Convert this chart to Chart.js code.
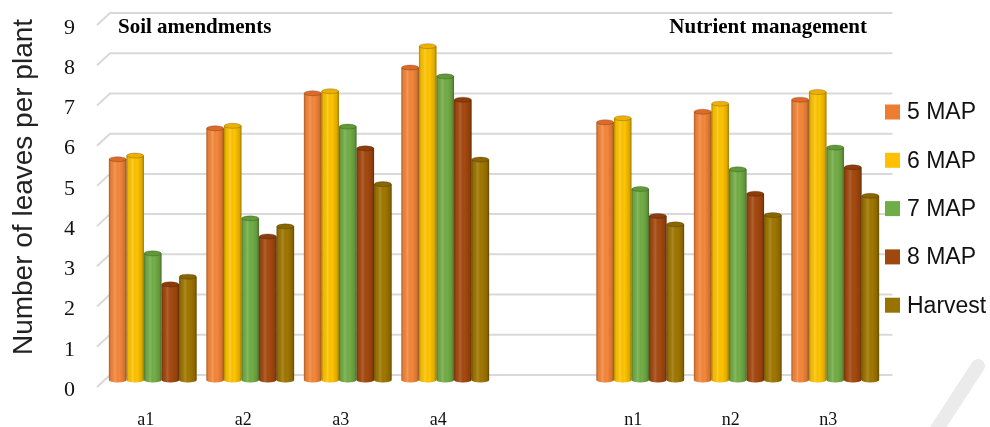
<!DOCTYPE html>
<html>
<head>
<meta charset="utf-8">
<script src="https://cdn.jsdelivr.net/npm/chart.js@4.4.1/dist/chart.umd.min.js"></script>
<style>
  html, body { margin: 0; padding: 0; background: #fff; }
  #wrap { width: 990px; height: 427px; position: relative; }
</style>
</head>
<body>
<div id="wrap"><canvas id="leavesChart"></canvas></div>
<script>
// categories (empty slot separates the two groups)
const categories = ['a1', 'a2', 'a3', 'a4', '', 'n1', 'n2', 'n3'];
const seriesNames = ['5 MAP', '6 MAP', '7 MAP', '8 MAP', 'Harvest'];

// number of leaves per plant
const map5    = [5.49, 6.26, 7.13, 7.77, null, 6.41, 6.67, 6.97];
const map6    = [5.58, 6.32, 7.18, 8.30, null, 6.51, 6.87, 7.16];
const map7    = [3.15, 4.02, 6.30, 7.55, null, 4.75, 5.24, 5.78];
const map8    = [2.38, 3.57, 5.76, 6.97, null, 4.08, 4.63, 5.29];
const harvest = [2.57, 3.82, 4.87, 5.48, null, 3.87, 4.10, 4.58];

const yTicks = [0, 1, 2, 3, 4, 5, 6, 7, 8, 9];
const groupTitles = ['Soil amendments', 'Nutrient management'];

const barColors    = ['#F5873A', '#FFC400', '#73AE47', '#A5490F', '#A07700'];
const capColors    = ['#DE6A28', '#EDB000', '#5F9A36', '#8E3C0A', '#8A6600'];
const legendColors = ['#ED7D31', '#FFC000', '#70AD47', '#9E480E', '#997300'];

const seriesData = [map5, map6, map7, map8, harvest];

// back-wall gridlines with the little slanted floor stub
const gridPlugin = {
    id: 'grid3d',
    beforeDatasetsDraw(chart) {
        const { ctx, chartArea, scales } = chart;
        ctx.save();
        ctx.strokeStyle = '#D9D9D9';
        ctx.lineWidth = 2;
        yTicks.forEach(v => {
            const y = scales.y.getPixelForValue(v) - 5;
            ctx.beginPath();
            ctx.moveTo(chartArea.left - 7, y + 12);
            ctx.lineTo(chartArea.left + 6, y);
            ctx.lineTo(chartArea.right + 8.5, y);
            ctx.stroke();
        });
        ctx.restore();
    }
};

function shadeGradient(ctx, left, w) {
    const g = ctx.createLinearGradient(left, 0, left + w, 0);
    g.addColorStop(0, 'rgba(0,0,0,0.30)');
    g.addColorStop(0.12, 'rgba(0,0,0,0.06)');
    g.addColorStop(0.35, 'rgba(255,255,255,0.14)');
    g.addColorStop(0.6, 'rgba(0,0,0,0)');
    g.addColorStop(0.88, 'rgba(0,0,0,0.14)');
    g.addColorStop(1, 'rgba(0,0,0,0.38)');
    return g;
}

// turn the flat bars into cylinders
const cylinderPlugin = {
    id: 'cylinders',
    afterDatasetsDraw(chart) {
        const ctx = chart.ctx;
        chart.data.datasets.forEach((ds, i) => {
            const meta = chart.getDatasetMeta(i);
            meta.data.forEach((bar, j) => {
                if (ds.data[j] == null) return;
                const { x, y, base, width } = bar.getProps(['x', 'y', 'base', 'width'], true);
                const left = x - width / 2;
                const rx = width / 2;
                const g = shadeGradient(ctx, left, width);
                ctx.save();
                // bottom rounding
                ctx.beginPath();
                ctx.ellipse(x, base, rx, 2.5, 0, 0, Math.PI);
                ctx.fillStyle = barColors[i];
                ctx.fill();
                ctx.fillStyle = g;
                ctx.fill();
                // side shading
                ctx.fillStyle = g;
                ctx.fillRect(left, y, width, base - y);
                // top cap
                ctx.beginPath();
                ctx.ellipse(x, y, rx - 0.3, 2.5, 0, 0, Math.PI * 2);
                ctx.fillStyle = capColors[i];
                ctx.fill();
                ctx.lineWidth = 0.8;
                ctx.strokeStyle = 'rgba(0,0,0,0.25)';
                ctx.stroke();
                ctx.restore();
            });
        });
    }
};

// titles, legend and axis title
const textPlugin = {
    id: 'texts',
    afterDraw(chart) {
        const ctx = chart.ctx;
        ctx.save();
        ctx.fillStyle = '#000';
        ctx.font = 'bold 21px "Liberation Serif", "Times New Roman", serif';
        ctx.textBaseline = 'middle';
        ctx.textAlign = 'left';
        ctx.fillText(groupTitles[0], 118, 28);
        ctx.textAlign = 'right';
        ctx.fillText(groupTitles[1], 867, 28);

        // y axis title
        ctx.save();
        ctx.translate(24, 187);
        ctx.rotate(-Math.PI / 2);
        ctx.textAlign = 'center';
        ctx.fillStyle = '#222';
        ctx.font = '28px "Liberation Sans", Arial, sans-serif';
        ctx.fillText('Number of leaves per plant', 0, 0);
        ctx.restore();

        // legend
        ctx.font = '23px "Liberation Sans", Arial, sans-serif';
        ctx.textAlign = 'left';
        chart.data.datasets.forEach((ds, i) => {
            const cy = 112 + i * 48.3;
            ctx.fillStyle = legendColors[i];
            ctx.fillRect(885, cy - 7.5, 15, 15);
            ctx.fillStyle = '#111';
            ctx.fillText(ds.label, 907, cy + 1);
        });

        // faint watermark stroke
        ctx.strokeStyle = 'rgba(215,215,215,0.5)';
        ctx.lineWidth = 14;
        ctx.lineCap = 'round';
        ctx.beginPath();
        ctx.moveTo(978, 366);
        ctx.lineTo(935, 432);
        ctx.stroke();
        ctx.restore();
    }
};

new Chart(document.getElementById('leavesChart'), {
    type: 'bar',
    data: {
        labels: categories,
        datasets: seriesNames.map((name, i) => ({
            label: name,
            data: seriesData[i],
            backgroundColor: barColors[i],
            borderWidth: 0,
            categoryPercentage: 0.9,
            barPercentage: 1.0
        }))
    },
    options: {
        responsive: true,
        maintainAspectRatio: false,
        animation: false,
        layout: { padding: { left: 0, top: 18, right: 106, bottom: 0 } },
        plugins: {
            legend: { display: false },
            tooltip: { enabled: false }
        },
        scales: {
            x: {
                grid: { display: false },
                border: { display: false },
                ticks: {
                    color: '#111',
                    font: { family: '"Liberation Serif", "Times New Roman", serif', size: 18 },
                    padding: 21,
                    labelOffset: -7,
                    maxRotation: 0
                },
                afterFit(scale) { scale.height = 47; }
            },
            y: {
                min: 0,
                max: 9,
                grid: { display: false },
                border: { display: false },
                ticks: {
                    stepSize: 1,
                    color: '#111',
                    font: { family: '"Liberation Serif", "Times New Roman", serif', size: 22 },
                    padding: 21,
                    labelOffset: 10
                },
                afterFit(scale) {
                    scale.width = 104;
                    scale.paddingTop = 14;
                    scale.paddingBottom = 14;
                }
            }
        }
    },
    plugins: [gridPlugin, cylinderPlugin, textPlugin]
});
</script>
</body>
</html>
